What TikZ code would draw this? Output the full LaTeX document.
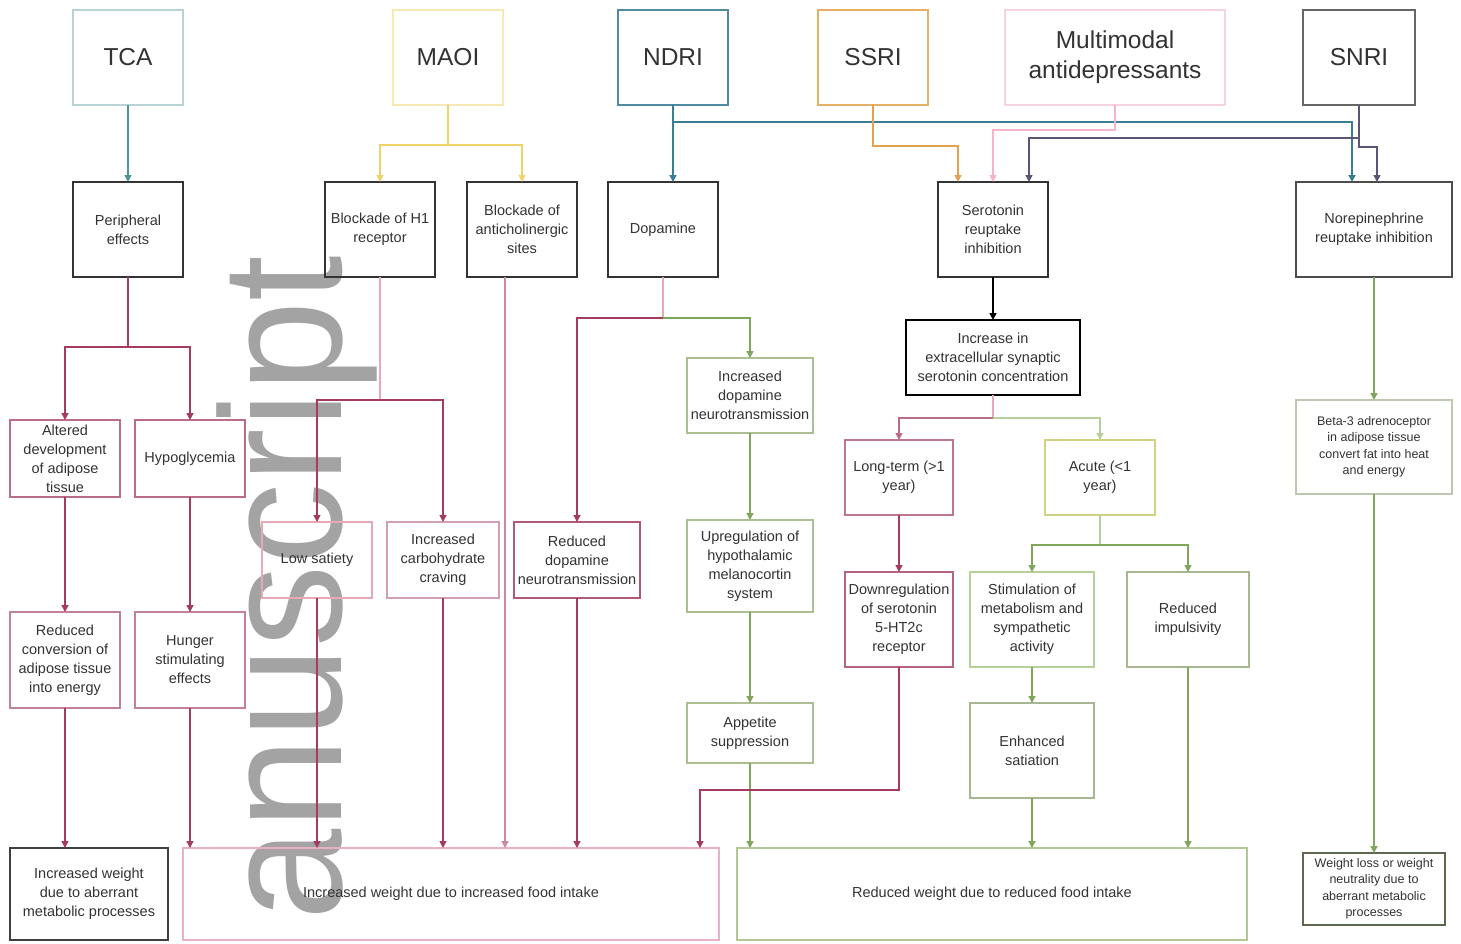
\documentclass[tikz,border=0pt]{standalone}
\usepackage{fontspec}
\setmainfont{Liberation Sans}
\usetikzlibrary{arrows.meta}
\definecolor{txt}{HTML}{333333}
\definecolor{wmgray}{HTML}{A3A3A3}
\definecolor{cteal}{HTML}{4E9595}
\definecolor{cyel}{HTML}{EFD36A}
\definecolor{cndri}{HTML}{3C7D96}
\definecolor{corange}{HTML}{E2A24E}
\definecolor{cpinkl}{HTML}{F2B6C6}
\definecolor{csnri}{HTML}{5D5577}
\definecolor{cmar}{HTML}{A33C5F}
\definecolor{cpkline}{HTML}{E7A9B8}
\definecolor{cgreen}{HTML}{7FA65A}
\definecolor{cgreenl}{HTML}{B7CF98}
\newcommand{\fsm}{\fontsize{14.5}{19}\selectfont}
\newcommand{\fbg}{\fontsize{24.5}{30}\selectfont}
\newcommand{\ftn}{\fontsize{12.5}{16.5}\selectfont}
\newcommand{\fwm}{\fontsize{164}{164}\selectfont}
\newcommand{\mkbox}[7]{%
  \node[bx,#6,minimum width={(#4-#2)*1pt},minimum height={(#5-#3)*1pt}] (#1) at ({(#2+#4)/2},{(#3+#5)/2}) {#7};}
\tikzset{
  bx/.style={draw, line width=1.3pt, inner sep=0pt, outer sep=0pt, align=center, font=\fsm, text=txt},
  topbox/.style={font=\fbg},
  tipped/.style={-{Triangle[length=7pt,width=7pt]}},
  ln/.style={line width=1.4pt},
  a-teal/.style={ln, tipped, draw=cteal},
  a-yel/.style={ln, tipped, draw=cyel},
  l-yel/.style={ln, draw=cyel},
  a-ndri/.style={ln, tipped, draw=cndri},
  a-or/.style={ln, tipped, draw=corange},
  a-pk/.style={ln, tipped, draw=cpinkl},
  a-snri/.style={ln, tipped, draw=csnri},
  a-mar/.style={ln, tipped, draw=cmar},
  l-mar/.style={ln, draw=cmar},
  l-pk/.style={ln, draw=cpkline},
  a-pk2/.style={ln, tipped, draw=cmar!60},
  a-mar2/.style={ln, tipped, draw=cmar!75},
  a-grn/.style={ln, tipped, draw=cgreen},
  a-grnl/.style={ln, tipped, draw=cgreenl},
  l-grnl/.style={ln, draw=cgreenl},
  a-blk/.style={ln, tipped, draw=black},
}
\begin{document}
\begin{tikzpicture}[x=1pt,y=-1pt]
\fill[white] (0,0) rectangle (1461,943);
\useasboundingbox (0,0) rectangle (1461,943);
% watermark
\node[rotate=90, yscale=1.05, anchor=base west, inner sep=0pt, text=wmgray, font=\fwm] (wm) at (341,921) {anuscript};
% top row
\mkbox{tca}{73}{10}{183}{105}{topbox,draw=cteal!40}{TCA}
\mkbox{maoi}{393}{10}{503}{105}{topbox,draw=cyel!50}{MAOI}
\mkbox{ndri}{618}{10}{728}{105}{topbox,draw=cndri!90}{NDRI}
\mkbox{ssri}{818}{10}{928}{105}{topbox,draw=corange!85}{SSRI}
\mkbox{multi}{1005}{10}{1225}{105}{topbox,draw=cpinkl!60}{Multimodal\\antidepressants}
\mkbox{snri}{1303}{10}{1415}{105}{topbox,draw=black!60}{SNRI}
% second row
\mkbox{per}{73}{182}{183}{277}{draw=txt}{Peripheral\\effects}
\mkbox{h1}{325}{182}{435}{277}{draw=txt}{Blockade of H1\\receptor}
\mkbox{anti}{467}{182}{577}{277}{draw=txt}{Blockade of\\anticholinergic\\sites}
\mkbox{dop}{608}{182}{718}{277}{draw=txt}{Dopamine}
\mkbox{ser}{938}{182}{1048}{277}{draw=txt}{Serotonin\\reuptake\\inhibition}
\mkbox{nor}{1296}{182}{1452}{277}{draw=black!70}{Norepinephrine\\reuptake inhibition}
\mkbox{incser}{906}{320}{1080}{395}{draw=black,line width=2pt}{Increase in\\extracellular synaptic\\serotonin concentration}
% TCA branch
\mkbox{alt}{10}{420}{120}{497}{draw=cmar!75}{Altered\\development\\of adipose\\tissue}
\mkbox{hypo}{135}{420}{245}{497}{draw=cmar!75}{Hypoglycemia}
\mkbox{rconv}{10}{612}{120}{708}{draw=cmar!65}{Reduced\\conversion of\\adipose tissue\\into energy}
\mkbox{hunger}{135}{612}{245}{708}{draw=cmar!65}{Hunger\\stimulating\\effects}
% MAOI / NDRI branch
\mkbox{lowsat}{262}{522}{372}{598}{draw=cpkline}{Low satiety}
\mkbox{carb}{387}{522}{499}{598}{draw=cpkline!80!gray}{Increased\\carbohydrate\\craving}
\mkbox{rdop}{514}{522}{640}{598}{draw=cmar!85}{Reduced\\dopamine\\neurotransmission}
\mkbox{idop}{687}{358}{813}{433}{draw=cgreenl!80!gray}{Increased\\dopamine\\neurotransmission}
\mkbox{upreg}{687}{520}{813}{612}{draw=cgreenl!80!gray}{Upregulation of\\hypothalamic\\melanocortin\\system}
\mkbox{appet}{687}{703}{813}{763}{draw=cgreenl!80!gray}{Appetite\\suppression}
% serotonin branch
\mkbox{long}{845}{440}{953}{515}{draw=cmar!70}{Long-term (>1\\year)}
\mkbox{acute}{1045}{440}{1155}{515}{draw=cyel!45!cgreenl}{Acute (<1\\year)}
\mkbox{down}{845}{572}{953}{667}{draw=cmar!80}{Downregulation\\of serotonin\\5-HT2c\\receptor}
\mkbox{stim}{970}{572}{1094}{667}{draw=cgreenl}{Stimulation of\\metabolism and\\sympathetic\\activity}
\mkbox{imp}{1127}{572}{1249}{667}{draw=cgreenl!70!gray}{Reduced\\impulsivity}
\mkbox{enh}{970}{703}{1094}{798}{draw=cgreenl!70!gray}{Enhanced\\satiation}
% norepinephrine branch
\mkbox{beta}{1296}{400}{1452}{494}{draw=cgreenl!60!gray!70,font=\ftn}{Beta-3 adrenoceptor\\in adipose tissue\\convert fat into heat\\and energy}
% bottom row
\mkbox{incab}{10}{848}{168}{940}{draw=black!75}{Increased weight\\due to aberrant\\metabolic processes}
\mkbox{incfood}{183}{848}{719}{940}{draw=cpinkl!90!gray}{Increased weight due to increased food intake}
\mkbox{redw}{737}{848}{1247}{940}{draw=cgreenl!90!gray}{Reduced weight due to reduced food intake}
\mkbox{wloss}{1303}{853}{1445}{925}{draw=cgreen!40!black!80,font=\ftn}{Weight loss or weight\\neutrality due to\\aberrant metabolic\\processes}
% ---- connectors: top
\draw[a-teal] (tca.south) -- (tca.south |- per.north);
\coordinate (jm) at (448,145);
\draw[l-yel] (maoi.south) -- (jm);
\draw[a-yel] (jm) -| (h1.north);
\draw[a-yel] (jm) -| (anti.north);
\draw[a-ndri] (ndri.south) -- (ndri.south |- dop.north);
\coordinate (jn) at (673,122);
\draw[a-ndri] (jn) -| ([xshift=-22pt]nor.north);
\draw[a-or] (ssri.south) -- ++(0,41) -| ([xshift=-35pt]ser.north);
\draw[a-pk] (multi.south) -- ++(0,25) -| (ser.north);
\draw[a-snri] (snri.south) -- ++(0,33) -| ([xshift=36pt]ser.north);
\draw[a-snri] (snri.south) -- ++(0,42) -| ([xshift=3pt]nor.north);
% TCA
\coordinate (jp) at (128,347);
\draw[l-mar] (per.south) -- (jp);
\draw[a-mar] (jp) -| (alt.north);
\draw[a-mar] (jp) -| (hypo.north);
\draw[a-mar] (alt.south) -- (alt.south |- rconv.north);
\draw[a-mar] (hypo.south) -- (hypo.south |- hunger.north);
\draw[a-mar] (rconv.south) -- (rconv.south |- incab.north);
\draw[a-mar] (hunger.south) -- (hunger.south |- incfood.north);
% MAOI
\coordinate (jh) at (380,400);
\draw[l-pk] (h1.south) -- (jh);
\draw[a-mar] (jh) -| (lowsat.north);
\draw[a-mar] (jh) -| (carb.north);
\draw[a-mar] (lowsat.south) -- (lowsat.south |- incfood.north);
\draw[a-mar] (carb.south) -- (carb.south |- incfood.north);
\coordinate (ja) at ([xshift=-17pt]anti.south);
\draw[a-pk2] (ja) -- (ja |- incfood.north);
% dopamine
\coordinate (jd) at (663,318);
\draw[l-pk] (dop.south) -- (jd);
\draw[a-mar] (jd) -| (rdop.north);
\draw[a-grn] (jd) -| (idop.north);
\draw[a-mar] (rdop.south) -- (rdop.south |- incfood.north);
\draw[a-grn] (idop.south) -- (upreg.north);
\draw[a-grn] (upreg.south) -- (appet.north);
\draw[a-grn] (appet.south) -- (appet.south |- redw.north);
% serotonin
\draw[a-blk] (ser.south) -- (incser.north);
\coordinate (js) at (993,418);
\draw[l-pk] (incser.south) -- (js);
\draw[a-mar2] (js) -| (long.north);
\draw[a-grnl] (js) -| (acute.north);
\draw[a-mar] (long.south) -- (down.north);
\coordinate (jdw) at (899,790);
\draw[a-mar] (down.south) -- (jdw) -| ([xshift=249pt]incfood.north);
\coordinate (jac) at (1100,545);
\draw[l-grnl] (acute.south) -- (jac);
\draw[a-grn] (jac) -| (stim.north);
\draw[a-grn] (jac) -| (imp.north);
\draw[a-grn] (stim.south) -- (enh.north);
\draw[a-grn] (enh.south) -- (enh.south |- redw.north);
\draw[a-grn] (imp.south) -- (imp.south |- redw.north);
% norepinephrine
\draw[a-grn] (nor.south) -- (nor.south |- beta.north);
\draw[a-grn] (beta.south) -- (beta.south |- wloss.north);
\end{tikzpicture}
\end{document}
